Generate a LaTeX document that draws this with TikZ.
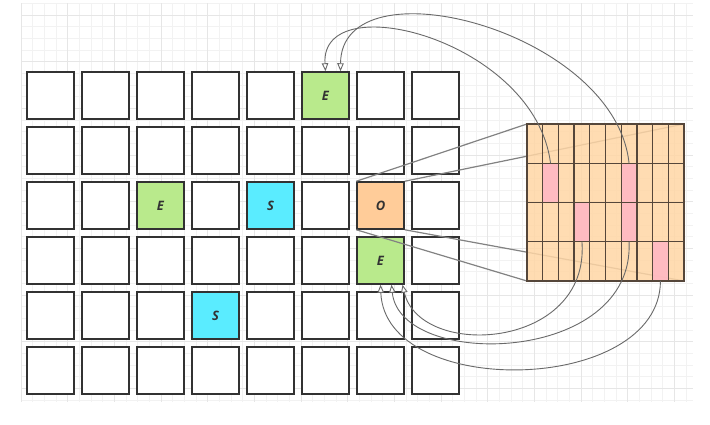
\documentclass[tikz,border=0pt]{standalone}
\usepackage{fontspec}
\setsansfont{Open Sans}
\usetikzlibrary{arrows.meta}
\definecolor{egreen}{RGB}{185,234,140}
\definecolor{scyan}{RGB}{90,236,255}
\definecolor{oorange}{RGB}{255,204,153}
\definecolor{rgfill}{RGB}{255,214,165}
\definecolor{pinkc}{RGB}{255,184,195}
\definecolor{boxline}{RGB}{50,50,50}
\definecolor{rgline}{RGB}{85,70,58}
\definecolor{linkc}{RGB}{130,130,130}
\definecolor{curvec}{RGB}{105,105,105}
\definecolor{gminor}{RGB}{242,242,242}
\definecolor{gmajor}{RGB}{230,230,230}
\definecolor{txt}{RGB}{50,50,50}
\expandafter\def\csname tx50\endcsname{E}
\expandafter\def\csname tx22\endcsname{E}
\expandafter\def\csname tx42\endcsname{S}
\expandafter\def\csname tx62\endcsname{O}
\expandafter\def\csname tx63\endcsname{E}
\expandafter\def\csname tx34\endcsname{S}
\begin{document}
\begin{tikzpicture}[x=1pt,y=-1pt,
  cellbox/.style={draw=boxline, line width=1.5pt, fill=white, minimum width=47pt, minimum height=47pt, inner sep=0pt,
    font=\sffamily\bfseries\itshape\fontsize{13}{15}\selectfont, text=txt},
  cf50/.style={fill=egreen}, cf22/.style={fill=egreen}, cf63/.style={fill=egreen},
  cf42/.style={fill=scyan}, cf34/.style={fill=scyan}, cf62/.style={fill=oorange},
  pinkcell/.style={fill=pinkc, fill opacity=0.9, draw=none, minimum width=15.7pt, minimum height=39.25pt, inner sep=0pt, outer sep=0pt},
  olink/.style={draw=linkc, line width=1.2pt},
  rgl/.style={draw=rgline, line width=1.3pt},
  curv/.style={draw=curvec, line width=0.9pt, -{Triangle[length=8pt,width=6.5pt,fill=white]}},
  gmin/.style={draw=gminor, line width=0.6pt},
  gmaj/.style={draw=gmajor, line width=0.8pt}]
\useasboundingbox (0,0) rectangle (710,424);
\fill[white] (0,0) rectangle (710,424);
% background grid
\foreach \k in {0,...,57} \draw[gmin] ({21+11.667*\k},3.3) -- ({21+11.667*\k},402);
\foreach \k in {0,...,34} \draw[gmin] (21,{3.33+11.667*\k}) -- (693,{3.33+11.667*\k});
\foreach \k in {0,...,14} \draw[gmaj] ({21+46.667*\k},3.3) -- ({21+46.667*\k},402);
\foreach \k in {0,...,8} \draw[gmaj] (21,{15+46.667*\k}) -- (693,{15+46.667*\k});
% left grid
\foreach \c in {0,...,7}{\foreach \r in {0,...,5}{
  \node[cellbox, cf\c\r/.try] (c\c\r) at ({50.5+55*\c},{95.5+55*\r}) {\csname tx\c\r\endcsname};
}}
% right grid
\node[draw=none, minimum width=157pt, minimum height=157pt, inner sep=0pt, outer sep=0pt] (rg) at (605.5,202.5) {};
\draw[olink] (c62.north west) -- (rg.north west);
\draw[olink] (c62.north east) -- (rg.north east);
\draw[olink] (c62.south east) -- (rg.south east);
\draw[olink] (c62.south west) -- (rg.south west);
\fill[rgfill, fill opacity=0.85] (rg.north west) rectangle (rg.south east);
\node[pinkcell] (p1) at (550.55,182.875) {};
\node[pinkcell] (p2) at (629.05,182.875) {};
\node[pinkcell] (p3) at (581.95,222.125) {};
\node[pinkcell] (p4) at (629.05,222.125) {};
\node[pinkcell] (p5) at (660.45,261.375) {};
\foreach \i in {1,...,9} \draw[rgl] ({527+15.7*\i},124) -- ({527+15.7*\i},281);
\foreach \j in {1,2,3} \draw[rgl] (527,{124+39.25*\j}) -- (684,{124+39.25*\j});
\draw[rgl] (rg.north west) rectangle (rg.south east);
% arrow targets
\coordinate (ta) at ([xshift=15pt]c50.north);
\coordinate (tb) at ([xshift=11pt]c63.south);
\coordinate (tc) at ([xshift=22pt]c63.south);
% curves
\draw[curv] (p2.north) .. controls (615,30) and (341,-40) .. (ta);
\draw[curv] (p1.north) .. controls (535,40) and (320,-15) .. (c50.north);
\draw[curv] (p3.south) .. controls (590,350) and (420,360) .. (tc);
\draw[curv] (p4.south) .. controls (635,365) and (400,370) .. (tb);
\draw[curv] (p5.south) .. controls (660,395) and (385,400) .. (c63.south);
\end{tikzpicture}
\end{document}
